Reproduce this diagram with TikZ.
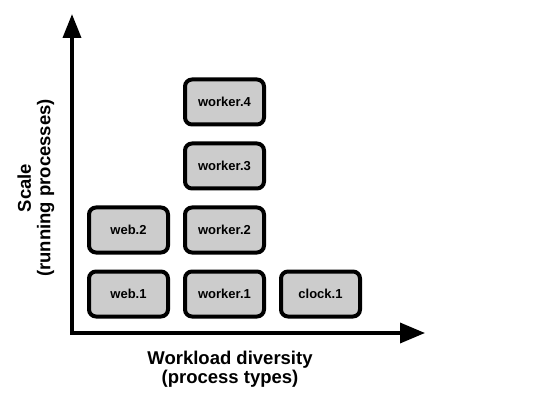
\documentclass[tikz,border=0pt]{standalone}
\usepackage{fontspec}
\setmainfont{Liberation Sans}
\usepackage{tikz}
\usetikzlibrary{arrows.meta,positioning}

\tikzset{
    proc/.style={draw, line width=4pt, rounded corners=7pt, fill=black!20,
        minimum width=79pt, minimum height=45pt, inner sep=0pt,
        font=\fontsize{13}{15}\selectfont\bfseries},
    axis/.style={line width=3.5pt,
        {Triangle[length=24pt,width=18pt]}-{Triangle[length=25pt,width=20pt]}},
    axislabel/.style={align=center, inner sep=0pt,
        font=\fontsize{18.5}{19.5}\selectfont\bfseries}
}

\begin{document}
\begin{tikzpicture}[x=1pt,y=-1pt]

\useasboundingbox (0,0) rectangle (552,401);

\coordinate (o) at (72,333);
\coordinate (ytip) at (72,14);
\coordinate (xtip) at (425,333);

\draw [axis] (ytip) -- (o) -- (xtip);

\node [proc] (web1) at (128.5,294) {web.1};
\node [proc, right=13pt of web1] (worker1) {worker.1};
\node [proc, right=13pt of worker1] (clock1) {clock.1};

\node [proc, above=15pt of web1] (web2) {web.2};

\foreach \i [count=\j from 1] in {2,3,4}
    \node [proc, above=15pt of worker\j] (worker\i) {worker.\i};

\node [axislabel] (xlabel) at (230,369) {Workload diversity\\(process types)};
\node [axislabel, rotate=90] (ylabel) at (36,188) {Scale\\(running processes)};

\end{tikzpicture}
\end{document}
